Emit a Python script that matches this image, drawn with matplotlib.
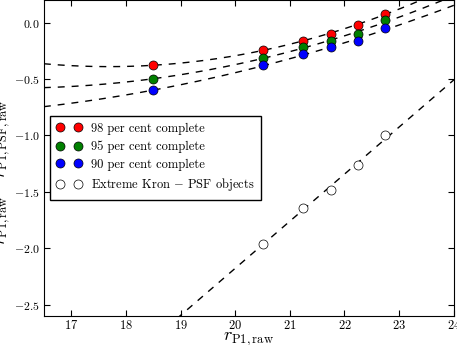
import numpy as np
import matplotlib
matplotlib.use("Agg")
import matplotlib.pyplot as plt

plt.rcParams['font.family'] = 'serif'
plt.rcParams['font.serif'] = ['cmr10', 'DejaVu Serif']
plt.rcParams['mathtext.fontset'] = 'cm'
plt.rcParams['axes.formatter.use_mathtext'] = True
plt.rcParams['axes.unicode_minus'] = True

mag = [18.5, 20.5, 21.25, 21.75, 22.25, 22.75]
c98 = [-0.38, -0.24, -0.16, -0.10, -0.02, 0.08]
c95 = [-0.50, -0.31, -0.22, -0.16, -0.10, 0.02]
c90 = [-0.60, -0.38, -0.28, -0.22, -0.16, -0.05]

kron_mag = [20.5, 21.25, 21.75, 22.25, 22.75]
kron_val = [-1.96, -1.64, -1.48, -1.26, -1.00]

fig = plt.figure(figsize=(4.57, 3.45), dpi=100)
ax = fig.add_axes([0.096, 0.084, 0.897, 0.916])

xx = np.linspace(16.5, 24, 300)
for vals in (c98, c95, c90):
    p = np.polyfit(mag, vals, 2)
    ax.plot(xx, np.polyval(p, xx), color='k', ls='--', dashes=(5, 5), lw=1)
pk = np.polyfit(kron_mag, kron_val, 1)
ax.plot(xx, np.polyval(pk, xx), color='k', ls='--', dashes=(5, 5), lw=1)

ms = 6.5
ax.plot(mag, c98, 'o', color='r', ms=ms, mec='k', mew=0.5, label='98 per cent complete', zorder=3)
ax.plot(mag, c95, 'o', color='g', ms=ms, mec='k', mew=0.5, label='95 per cent complete', zorder=3)
ax.plot(mag, c90, 'o', color='b', ms=ms, mec='k', mew=0.5, label='90 per cent complete', zorder=3)
ax.plot(kron_mag, kron_val, 'o', color='w', ms=ms, mec='k', mew=0.5,
        label=r'Extreme Kron $-$ PSF objects', zorder=3)

ax.set_xlim(16.5, 24)
ax.set_ylim(-2.6, 0.2)
ax.set_xticks([17, 18, 19, 20, 21, 22, 23, 24])
ax.set_yticks([-2.5, -2.0, -1.5, -1.0, -0.5, 0.0])
ax.tick_params(direction='in', top=True, right=True, labelsize=9, length=4)
ax.tick_params(axis='y', labelsize=8.5, pad=3)
ax.tick_params(axis='x', pad=2)
ax.set_xlabel(r'$r_{\rm P1,raw}$', fontsize=13)
ax.set_ylabel(r'$r_{\rm P1,raw} - r_{\rm P1,PSF,raw}$', fontsize=12.5)
ax.xaxis.set_label_coords(0.5, -0.047)
ax.yaxis.set_label_coords(-0.075, 0.455)

leg = ax.legend(loc='center left', bbox_to_anchor=(0.015, 0.5), numpoints=2,
                fontsize=9, fancybox=False, framealpha=1, edgecolor='k',
                handletextpad=0.8, borderpad=0.5, labelspacing=0.45,
                borderaxespad=0)
leg.get_frame().set_linewidth(1)

fig.savefig('out.png', dpi=100)
